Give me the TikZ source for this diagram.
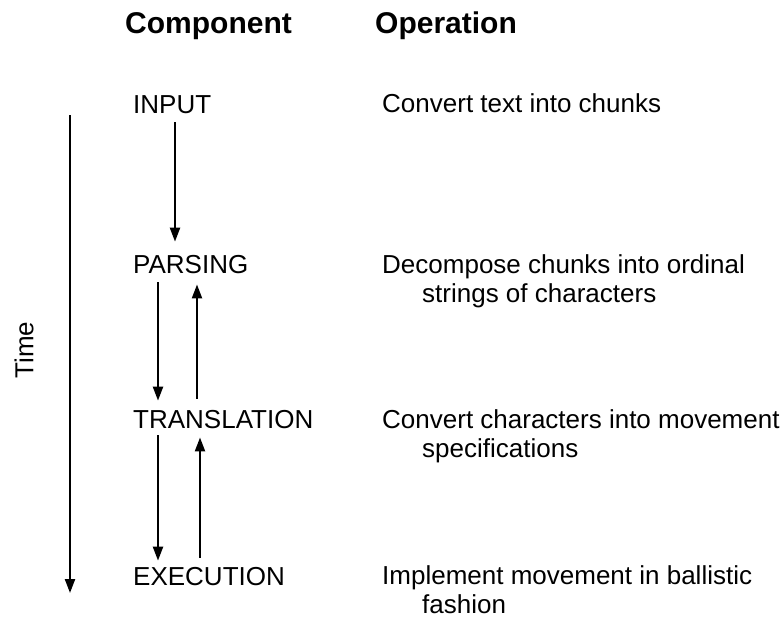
\documentclass[tikz,border=0pt]{standalone}
\usepackage{fontspec}
\setmainfont{Liberation Sans}
\usetikzlibrary{arrows.meta}

\begin{document}
\begin{tikzpicture}[x=1pt,y=-1pt,
  comp/.style={anchor=base west,inner sep=0pt,font=\fontsize{26}{29}\selectfont},
  oper/.style={comp,align=left},
  head/.style={anchor=base west,inner sep=0pt,font=\fontsize{30}{34}\selectfont\bfseries},
  flow/.style={-{Triangle[length=14pt,width=10pt]},line width=2.2pt}]

\useasboundingbox (0,0) rectangle (784,621);

%%    NODES   %%
\node[head] (comphead) at (125,33) {Component};
\node[head] (ophead) at (375,33) {Operation};

\node[comp] (input) at (133,113) {INPUT};
\node[comp] (parsing) at (133,273) {PARSING};
\node[comp] (translation) at (133,428) {TRANSLATION};
\node[comp] (execution) at (133,585) {EXECUTION};

% multi-line nodes sit on the baseline of their last line
\node[oper] (opinput) at (382,112) {Convert text into chunks};
\node[oper] (opparsing) at (382,302) {Decompose chunks into ordinal\\\hspace*{40pt}strings of characters};
\node[oper] (optranslation) at (382,457) {Convert characters into movement\\\hspace*{40pt}specifications};
\node[oper] (opexecution) at (382,613) {Implement movement in ballistic\\\hspace*{40pt}fashion};

\node[comp,anchor=center,rotate=90] (time) at (24,350) {Time};
\coordinate (timetop) at (70,115);
\coordinate (timebot) at (70,593);

%%    ARROWS    %%
\draw [flow] ([xshift=42pt,yshift=-9pt]input.south west) -- ([xshift=42pt,yshift=13pt]parsing.north west);
\draw [flow] ([xshift=25pt,yshift=-9pt]parsing.south west) -- ([xshift=25pt,yshift=9pt]translation.north west);
\draw [flow] ([xshift=64pt,yshift=11pt]translation.north west) -- ([xshift=64pt,yshift=-11pt]parsing.south west);
\draw [flow] ([xshift=25pt,yshift=-7pt]translation.south west) -- ([xshift=25pt,yshift=6pt]execution.north west);
\draw [flow] ([xshift=67pt,yshift=9pt]execution.north west) -- ([xshift=67pt,yshift=-9pt]translation.south west);
\draw [flow] (timetop) -- (timebot);

\end{tikzpicture}
\end{document}
